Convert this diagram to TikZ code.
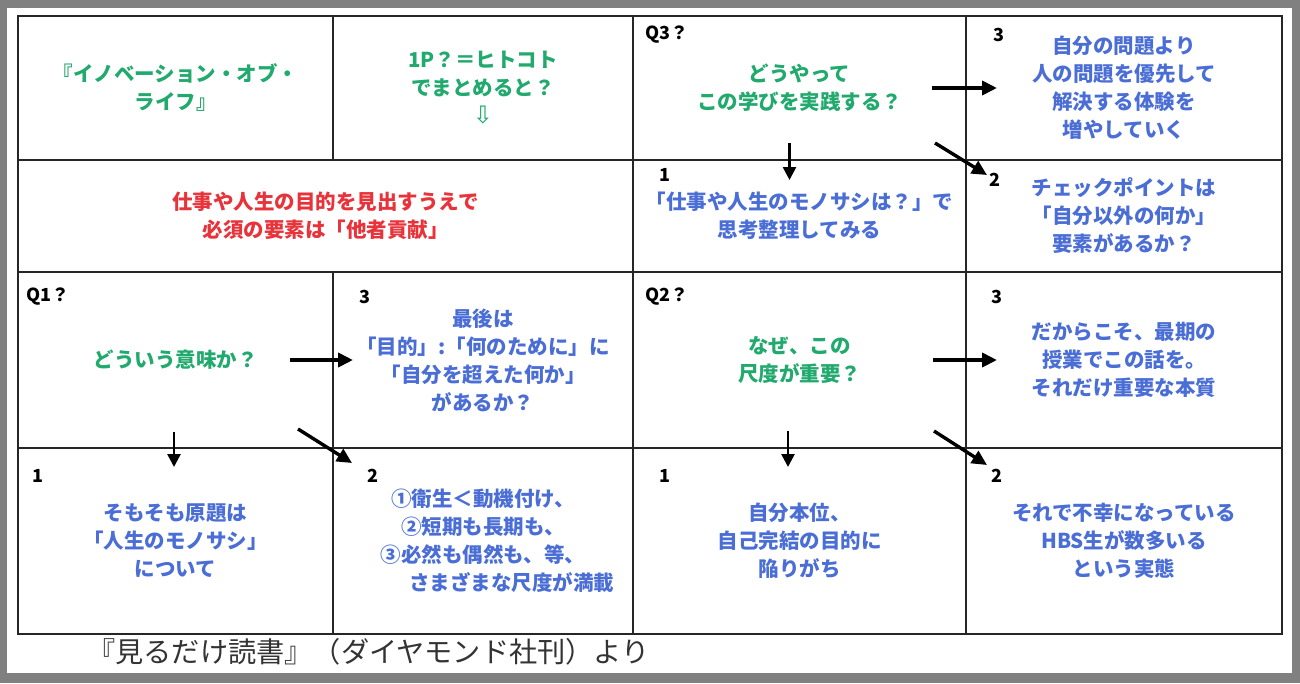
\documentclass[tikz,border=0pt]{standalone}
\usepackage{fontspec}
\setmainfont{Noto Sans CJK JP}
\newfontfamily\arrowfont{DejaVu Sans}
\usepackage{tikz}
\usetikzlibrary{arrows.meta}
\definecolor{askgreen}{HTML}{22AA6E}
\definecolor{answerblue}{HTML}{4A6ED6}
\definecolor{keyred}{HTML}{E8333A}
\definecolor{frame}{HTML}{808080}

\begin{document}
\begin{tikzpicture}[x=1pt,y=-1pt,
  cell/.style={draw=black!85,line width=1.6pt,inner sep=0pt,outer sep=0pt,align=center},
  ask/.style={cell,text=askgreen,font=\bfseries\fontsize{20.5}{28}\selectfont},
  answer/.style={ask,text=answerblue},
  key/.style={ask,text=keyred},
  num/.style={anchor=west,inner sep=0pt,font=\bfseries\fontsize{18}{20}\selectfont},
  flow/.style={-{Triangle[length=15pt,width=14pt]},line width=4pt},
  drop/.style={-{Triangle[length=13pt,width=13pt]},line width=2.6pt},
  slant/.style={-{Triangle[length=15pt,width=14pt]},line width=3.4pt}]
\useasboundingbox (0,0) rectangle (1300,683);
\fill[frame] (0,0) rectangle (1300,683);
\fill[white] (7,8) rectangle (1292,673);

% row 1
\node[ask,minimum width=315pt,minimum height=144pt] (r1c1) at (175.5,88)
  {『イノベーション・オブ・\\ライフ』};
\node[ask,minimum width=300pt,minimum height=144pt] (r1c2) at (483,88)
  {1P？＝ヒトコト\\でまとめると？\\{\arrowfont\mdseries\fontsize{24}{30}\selectfont ⇩}};
\node[ask,minimum width=333pt,minimum height=144pt] (r1c3) at (799.5,88)
  {どうやって\\この学びを実践する？};
\node[answer,minimum width=316pt,minimum height=144pt] (r1c4) at (1124,88)
  {自分の問題より\\人の問題を優先して\\解決する体験を\\増やしていく};
% row 2
\node[key,minimum width=615pt,minimum height=112pt] (r2c12) at (325.5,216)
  {仕事や人生の目的を見出すうえで\\必須の要素は「他者貢献」};
\node[answer,minimum width=333pt,minimum height=112pt] (r2c3) at (799.5,216)
  {「仕事や人生のモノサシは？」で\\思考整理してみる};
\node[answer,minimum width=316pt,minimum height=112pt] (r2c4) at (1124,216)
  {チェックポイントは\\「自分以外の何か」\\要素があるか？};
% row 3
\node[ask,minimum width=315pt,minimum height=176pt] (r3c1) at (175.5,360)
  {どういう意味か？};
\node[answer,minimum width=300pt,minimum height=176pt] (r3c2) at (483,360)
  {最後は\\「目的」:「何のために」に\\「自分を超えた何か」\\があるか？};
\node[ask,minimum width=333pt,minimum height=176pt] (r3c3) at (799.5,360)
  {なぜ、この\\尺度が重要？};
\node[answer,minimum width=316pt,minimum height=176pt] (r3c4) at (1124,360)
  {だからこそ、最期の\\授業でこの話を。\\それだけ重要な本質};
% row 4
\node[answer,minimum width=315pt,minimum height=186pt] (r4c1) at (175.5,541)
  {そもそも原題は\\「人生のモノサシ」\\について};
\node[answer,minimum width=300pt,minimum height=186pt] (r4c2) at (483,541)
  {①衛生＜動機付け、\\②短期も長期も、\\③必然も偶然も、等、\\\hspace*{2.8em}さまざまな尺度が満載};
\node[answer,minimum width=333pt,minimum height=186pt] (r4c3) at (799.5,541)
  {自分本位、\\自己完結の目的に\\陥りがち};
\node[answer,minimum width=316pt,minimum height=186pt] (r4c4) at (1124,541)
  {それで不幸になっている\\HBS生が数多いる\\という実態};

\node[num] (q3) at (645,35) {Q3？};
\node[num] (q3n3) at (993,35) {3};
\node[num] (q3n1) at (659,175) {1};
\node[num] (q3n2) at (989,180) {2};
\node[num] (q1) at (26,297) {Q1？};
\node[num] (q1n3) at (359,297) {3};
\node[num] (q1n1) at (32,476) {1};
\node[num] (q1n2) at (367,476) {2};
\node[num] (q2) at (645,297) {Q2？};
\node[num] (q2n3) at (991,297) {3};
\node[num] (q2n1) at (659,476) {1};
\node[num] (q2n2) at (991,476) {2};

\node[anchor=west,inner sep=0pt,text=black!80,font=\fontsize{28.2}{30}\selectfont] (source)
  at (87,652) {『見るだけ読書』（ダイヤモンド社刊）より};

% each question points right (3), down (1) and across the corner (2)
\draw[flow] ([xshift=-34pt]r1c3.east) -- ([xshift=31pt]r1c4.west);
\draw[drop] ([shift={(-10pt,17pt)}]r1c3.south) -- ([shift={(-10pt,-20pt)}]r2c3.north);
\draw[slant] ([shift={(-31pt,17pt)}]r1c3.south east) -- ([shift={(21pt,-15pt)}]r2c4.north west);
\draw[flow] ([xshift=-43pt]r3c1.east) -- ([xshift=20pt]r3c2.west);
\draw[drop] ([shift={(-1.5pt,16pt)}]r3c1.south) -- ([shift={(-1.5pt,-19pt)}]r4c1.north);
\draw[slant] ([shift={(-35pt,19pt)}]r3c1.south east) -- ([shift={(19pt,-15pt)}]r4c2.north west);
\draw[flow] ([xshift=-33pt]r3c3.east) -- ([xshift=31pt]r3c4.west);
\draw[drop] ([shift={(-11.5pt,17pt)}]r3c3.south) -- ([shift={(-11.5pt,-19pt)}]r4c3.north);
\draw[slant] ([shift={(-32pt,17pt)}]r3c3.south east) -- ([shift={(21pt,-17pt)}]r4c4.north west);
\end{tikzpicture}
\end{document}
